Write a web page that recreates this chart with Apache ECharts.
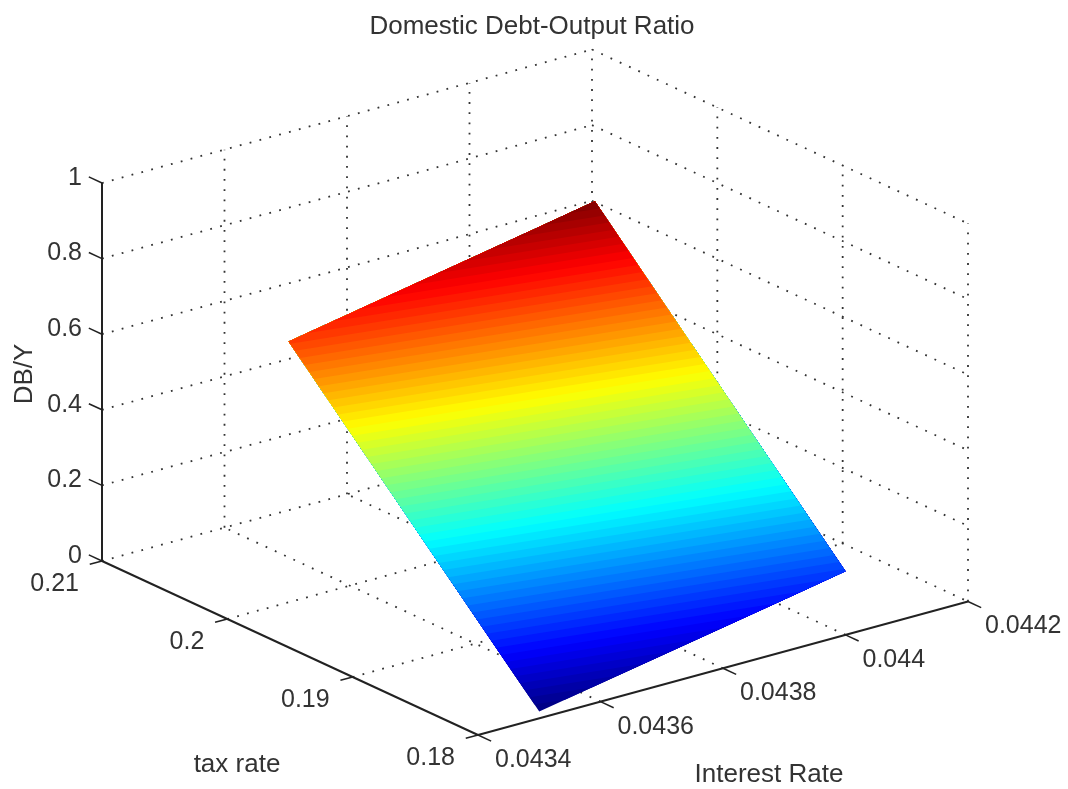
<!DOCTYPE html>
<html>
<head>
<meta charset="utf-8">
<style>
  html, body { margin: 0; padding: 0; background: #fff; }
  #chart { width: 1068px; height: 789px; }
</style>
<script src="https://cdn.jsdelivr.net/npm/echarts@6/dist/echarts.min.js"></script>
</head>
<body>
<div id="chart"></div>
<script>
// tick values and labels
var xTicks = [0.0434, 0.0436, 0.0438, 0.044, 0.0442];
var xTickLabels = ['0.0434', '0.0436', '0.0438', '0.044', '0.0442'];
var yTicks = [0.18, 0.19, 0.2, 0.21];
var yTickLabels = ['0.18', '0.19', '0.2', '0.21'];
var zTicks = [0, 0.2, 0.4, 0.6, 0.8, 1];
var zTickLabels = ['0', '0.2', '0.4', '0.6', '0.8', '1'];

// surface: one row of zRows per entry of ys
var xs = [0.0435, 0.0436, 0.0437, 0.0438, 0.0439, 0.044];
var ys = [0.18, 0.19, 0.2];
var zRow18 = [0.018, 0.048, 0.078, 0.108, 0.138, 0.168];
var zRow19 = [0.354, 0.384, 0.414, 0.444, 0.474, 0.504];
var zRow20 = [0.690, 0.720, 0.750, 0.780, 0.810, 0.840];
var zRows = [zRow18, zRow19, zRow20];

var FONT = '"Liberation Sans", Arial, sans-serif';
var LEVELS = 64;

// view of the matlab box: pixel position of the front corner and the three edges
var origin = [478, 735];
var xEdge = [490, -133.5];
var yEdge = [-376, -174];
var zEdge = [0, -378];

function project(p) {
  var u = (p[0] - xTicks[0]) / (xTicks[4] - xTicks[0]);
  var v = (p[1] - yTicks[0]) / (yTicks[3] - yTicks[0]);
  var w = p[2];
  return [
    origin[0] + u * xEdge[0] + v * yEdge[0] + w * zEdge[0],
    origin[1] + u * xEdge[1] + v * yEdge[1] + w * zEdge[1]
  ];
}

// jet colormap
function jet(i) {
  var t = (i + 0.5) / LEVELS;
  function ch(c) { return Math.round(255 * Math.max(0, Math.min(1, 1.5 - Math.abs(4 * t - c)))); }
  return 'rgb(' + ch(3) + ',' + ch(2) + ',' + ch(1) + ')';
}

// keep the part of a polygon above a z level
function clipAbove(poly, level) {
  var out = [];
  for (var i = 0; i < poly.length; i++) {
    var a = poly[i], b = poly[(i + 1) % poly.length];
    var aIn = a[2] >= level, bIn = b[2] >= level;
    if (aIn) out.push(a);
    if (aIn !== bIn) {
      var t = (level - a[2]) / (b[2] - a[2]);
      out.push([a[0] + t * (b[0] - a[0]), a[1] + t * (b[1] - a[1]), level]);
    }
  }
  return out;
}

// dotted grid on the floor and the two back walls, no line drawn twice
var gridLines = [];
var xMin = xTicks[0], xMax = xTicks[4], yMin = yTicks[0], yMax = yTicks[3];
xTicks.forEach(function (x) {
  if (x !== xMin && x !== xMax) gridLines.push([[x, yMin, 0], [x, yMax, 0]]);
  if (x !== xMin) gridLines.push([[x, yMax, 0], [x, yMax, 1]]);
});
yTicks.forEach(function (y) {
  if (y !== yMin && y !== yMax) gridLines.push([[xMin, y, 0], [xMax, y, 0]]);
  if (y !== yMax) gridLines.push([[xMax, y, 0], [xMax, y, 1]]);
});
zTicks.forEach(function (z) {
  gridLines.push([[xMin, yMax, z], [xMax, yMax, z]]);
  gridLines.push([[xMax, yMax, z], [xMax, yMin, z]]);
});

// the three solid axes
var axisLines = [
  [[xMin, yMax, 0], [xMin, yMax, 1]],
  [[xMin, yMax, 0], [xMin, yMin, 0]],
  [[xMin, yMin, 0], [xMax, yMin, 0]]
];

// tick stubs
var stubs = [];
var stubY = 0.035 * (yMax - yMin);
var stubX = 0.025 * (xMax - xMin);
zTicks.forEach(function (z) { stubs.push([[xMin, yMax, z], [xMin, yMax + stubY, z]]); });
yTicks.forEach(function (y) { stubs.push([[xMin, y, 0], [xMin - stubX, y, 0]]); });
xTicks.forEach(function (x) { stubs.push([[x, yMin, 0], [x, yMin - stubY, 0]]); });

// outline of the surface, walked round the edge of the table
var outline = [];
var lastRow = ys.length - 1, lastCol = xs.length - 1;
xs.forEach(function (x, c) { outline.push([x, ys[0], zRows[0][c]]); });
for (var r = 1; r <= lastRow; r++) outline.push([xs[lastCol], ys[r], zRows[r][lastCol]]);
for (var c = lastCol - 1; c >= 0; c--) outline.push([xs[c], ys[lastRow], zRows[lastRow][c]]);
for (var r2 = lastRow - 1; r2 > 0; r2--) outline.push([xs[0], ys[r2], zRows[r2][0]]);

var zMin = Math.min.apply(null, zRows.map(function (r) { return Math.min.apply(null, r); }));
var zMax = Math.max.apply(null, zRows.map(function (r) { return Math.max.apply(null, r); }));
var levelIndex = [];
for (var k = 0; k < LEVELS; k++) levelIndex.push([k]);

// tick labels: anchor point in data units, pixel offset from it, alignment
var labels = [];
zTicks.forEach(function (z, i) {
  labels.push({ at: [xMin, yMax, z], dx: -20, dy: -5, align: 'right', text: zTickLabels[i] });
});
yTicks.forEach(function (y, i) {
  labels.push({ at: [xMin, y, 0], dx: -23, dy: 23, align: 'right', text: yTickLabels[i] });
});
xTicks.forEach(function (x, i) {
  labels.push({ at: [x, yMin, 0], dx: 17, dy: 25, align: 'left', text: xTickLabels[i] });
});

function toPixel(api, p) {
  return api.coord(project(p));
}

function lineSeries(lines, style) {
  return {
    type: 'custom',
    coordinateSystem: 'cartesian2d',
    silent: true,
    clip: false,
    data: lines.map(function (l, i) { return [i]; }),
    renderItem: function (params, api) {
      var l = lines[params.dataIndex];
      var a = toPixel(api, l[0]), b = toPixel(api, l[1]);
      return {
        type: 'line',
        shape: { x1: a[0], y1: a[1], x2: b[0], y2: b[1] },
        style: style
      };
    }
  };
}

var chart = echarts.init(document.getElementById('chart'), null, { renderer: 'canvas' });
chart.setOption({
  animation: false,
  backgroundColor: '#fff',
  title: {
    text: 'Domestic Debt-Output Ratio',
    left: 527,
    top: 9,
    textAlign: 'center',
    textStyle: { fontFamily: FONT, fontSize: 26, fontWeight: 'normal', color: '#333' }
  },
  grid: { left: 0, right: 0, top: 0, bottom: 0 },
  xAxis: { type: 'value', min: 0, max: 1068, show: false },
  yAxis: { type: 'value', min: 0, max: 789, inverse: true, show: false },
  series: [
    lineSeries(gridLines, { stroke: '#333', lineWidth: 1.8, lineDash: [1.8, 8.4], fill: null }),
    {
      // each level paints everything above it, the next one covers the rest, so no seams
      type: 'custom',
      coordinateSystem: 'cartesian2d',
      silent: true,
      clip: false,
      data: levelIndex,
      renderItem: function (params, api) {
        var k = params.dataIndex;
        var poly = clipAbove(outline, zMin + (zMax - zMin) * k / LEVELS);
        return {
          type: 'polygon',
          shape: { points: poly.map(function (p) { return toPixel(api, p); }) },
          style: { fill: jet(k) }
        };
      }
    },
    lineSeries(axisLines, { stroke: '#222', lineWidth: 2, fill: null }),
    lineSeries(stubs, { stroke: '#222', lineWidth: 1.5, fill: null }),
    {
      type: 'custom',
      coordinateSystem: 'cartesian2d',
      silent: true,
      clip: false,
      data: labels.map(function (l, i) { return [i]; }),
      renderItem: function (params, api) {
        var l = labels[params.dataIndex];
        var p = toPixel(api, l.at);
        return {
          type: 'text',
          style: {
            x: p[0] + l.dx,
            y: p[1] + l.dy,
            text: l.text,
            align: l.align,
            verticalAlign: 'middle',
            font: '25px ' + FONT,
            fill: '#333'
          }
        };
      }
    }
  ],
  graphic: [
    { type: 'text', x: 237, y: 765, style: { text: 'tax rate', align: 'center', verticalAlign: 'middle', font: '26px ' + FONT, fill: '#333' } },
    { type: 'text', x: 769, y: 775, style: { text: 'Interest Rate', align: 'center', verticalAlign: 'middle', font: '26px ' + FONT, fill: '#333' } },
    { type: 'text', x: 25, y: 374, rotation: Math.PI / 2, style: { text: 'DB/Y', align: 'center', verticalAlign: 'middle', font: '26px ' + FONT, fill: '#333' } }
  ]
});
</script>
</body>
</html>
